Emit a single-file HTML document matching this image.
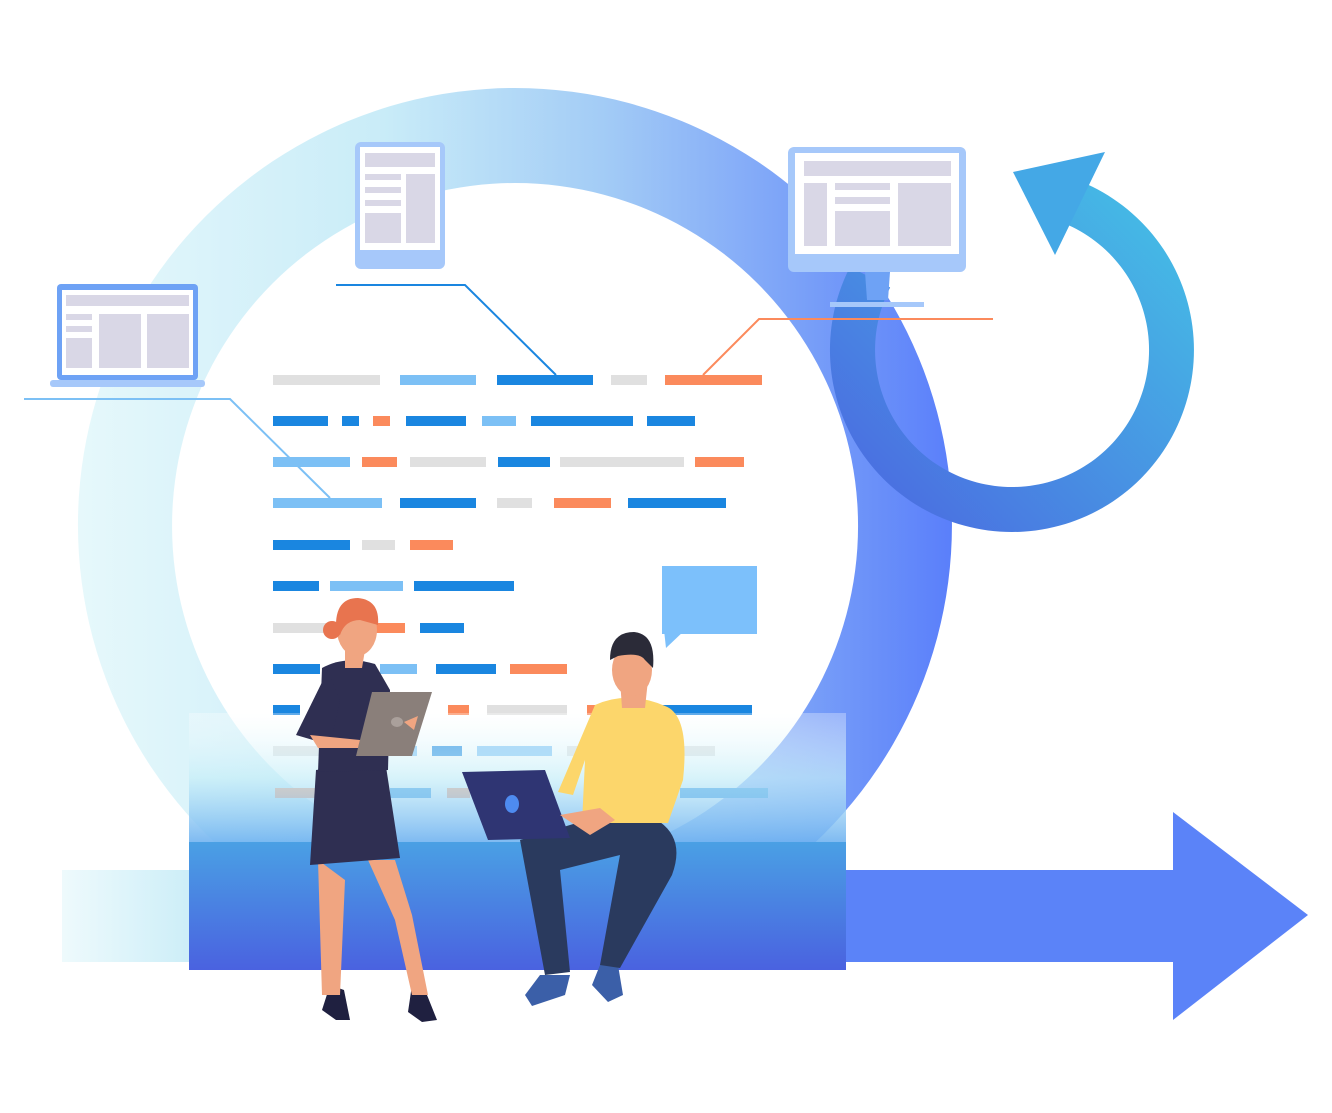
<!DOCTYPE html>
<html><head><meta charset="utf-8"><style>html,body{margin:0;padding:0;background:#fff}svg{display:block}</style></head>
<body>
<svg width="1332" height="1113" viewBox="0 0 1332 1113" xmlns="http://www.w3.org/2000/svg">
<defs>
<linearGradient id="ring" x1="0" y1="0" x2="1" y2="0">
<stop offset="0" stop-color="#e6f8fb"/><stop offset="0.35" stop-color="#c9ecf8"/><stop offset="0.6" stop-color="#a3ccf6"/><stop offset="1" stop-color="#5a7ffa"/></linearGradient>
<linearGradient id="loop" x1="1" y1="0" x2="0" y2="1">
<stop offset="0" stop-color="#44c6e6"/><stop offset="1" stop-color="#4b63e0"/></linearGradient>
<linearGradient id="plat" x1="0" y1="0" x2="0" y2="1">
<stop offset="0" stop-color="#4aa0e4"/><stop offset="1" stop-color="#4a62e0"/></linearGradient>
<linearGradient id="glass" x1="0" y1="0" x2="0" y2="1">
<stop offset="0" stop-color="#ffffff" stop-opacity="0.3"/><stop offset="0.5" stop-color="#c6eef8" stop-opacity="0.7"/><stop offset="1" stop-color="#6fb2f0" stop-opacity="0.9"/></linearGradient>
<linearGradient id="lrect" x1="0" y1="0" x2="1" y2="0">
<stop offset="0" stop-color="#eefafc"/><stop offset="1" stop-color="#cdeef8"/></linearGradient>
<clipPath id="cl"><polygon points="1012,350 700,190 700,1113 1332,1113 1332,0 1126,0"/></clipPath>
</defs>

<!-- big ring -->
<path fill-rule="evenodd" fill="url(#ring)" d="M515,88 a437,437 0 1,1 -0.1,0 Z M515,183 a343,343 0 1,0 0.1,0 Z"/>

<!-- loop arrow -->
<path fill-rule="evenodd" fill="url(#loop)" d="M1012,168 a182,182 0 1,1 -0.1,0 Z M1012,213 a137,137 0 1,0 0.1,0 Z" clip-path="url(#cl)"/>
<polygon points="1013,172 1105,152 1055,255" fill="#44a8e6"/>

<!-- left faint rect -->
<rect x="62" y="870" width="128" height="92" fill="url(#lrect)"/>
<!-- right arrow -->
<rect x="846" y="870" width="330" height="92" fill="#5b83f8"/>
<polygon points="1173,812 1308,915 1173,1020" fill="#5b83f8"/>

<!-- code lines -->
<g>
<g fill="#e0e0e0">
<rect x="273" y="375" width="107" height="10"/><rect x="611" y="375" width="36" height="10"/>
<rect x="410" y="457" width="76" height="10"/><rect x="560" y="457" width="124" height="10"/>
<rect x="497" y="498" width="35" height="10"/><rect x="362" y="540" width="33" height="10"/>
<rect x="273" y="623" width="57" height="10"/><rect x="487" y="705" width="80" height="10"/>
<rect x="273" y="746" width="57" height="10"/><rect x="567" y="746" width="33" height="10"/><rect x="680" y="746" width="35" height="10"/>
</g>
<g fill="#7cc0f5">
<rect x="400" y="375" width="76" height="10"/><rect x="482" y="416" width="34" height="10"/>
<rect x="273" y="457" width="77" height="10"/><rect x="273" y="498" width="109" height="10"/>
<rect x="330" y="581" width="73" height="10"/><rect x="380" y="664" width="37" height="10"/>
<rect x="390" y="746" width="27" height="10"/><rect x="477" y="746" width="75" height="10"/>
</g>
<g fill="#1a86e0">
<rect x="497" y="375" width="96" height="10"/>
<rect x="273" y="416" width="55" height="10"/><rect x="342" y="416" width="17" height="10"/><rect x="406" y="416" width="60" height="10"/><rect x="531" y="416" width="102" height="10"/><rect x="647" y="416" width="48" height="10"/>
<rect x="498" y="457" width="52" height="10"/>
<rect x="400" y="498" width="76" height="10"/><rect x="628" y="498" width="98" height="10"/>
<rect x="273" y="540" width="77" height="10"/>
<rect x="273" y="581" width="46" height="10"/><rect x="414" y="581" width="100" height="10"/>
<rect x="420" y="623" width="44" height="10"/>
<rect x="273" y="664" width="47" height="10"/><rect x="436" y="664" width="60" height="10"/>
<rect x="273" y="705" width="27" height="10"/><rect x="660" y="705" width="92" height="10"/>
<rect x="432" y="746" width="30" height="10"/>
<rect x="390" y="788" width="41" height="10"/><rect x="680" y="788" width="88" height="10"/>
</g>
<g fill="#fb8a5c">
<rect x="665" y="375" width="97" height="10"/><rect x="373" y="416" width="17" height="10"/>
<rect x="362" y="457" width="35" height="10"/><rect x="695" y="457" width="49" height="10"/>
<rect x="554" y="498" width="57" height="10"/><rect x="410" y="540" width="43" height="10"/>
<rect x="375" y="623" width="30" height="10"/><rect x="510" y="664" width="57" height="10"/>
<rect x="448" y="705" width="21" height="10"/><rect x="587" y="705" width="23" height="10"/>
<rect x="275" y="788" width="40" height="10"/><rect x="447" y="788" width="23" height="10"/>
</g>
</g>

<!-- speech bubble -->
<rect x="662" y="566" width="95" height="68" fill="#7cc0fb"/>
<polygon points="664,630 685,630 666,648" fill="#7cc0fb"/>

<!-- platform -->
<rect x="189" y="713" width="657" height="130" fill="url(#glass)"/>
<rect x="189" y="842" width="657" height="128" fill="url(#plat)"/>

<!-- connectors -->
<polyline points="24,399 230,399 330,498" fill="none" stroke="#7cc0f5" stroke-width="2"/>
<polyline points="336,285 465,285 556,375" fill="none" stroke="#1a86e0" stroke-width="2"/>
<polyline points="993,319 759,319 703,375" fill="none" stroke="#fb8a5c" stroke-width="2"/>

<!-- laptop -->
<rect x="57" y="284" width="141" height="96" rx="4" fill="#6ea2f5"/>
<rect x="62" y="290" width="131" height="85" fill="#fff"/>
<rect x="50" y="380" width="155" height="7" rx="3" fill="#a6c8fa"/>
<g fill="#d9d7e6"><rect x="66" y="295" width="123" height="11"/><rect x="66" y="314" width="26" height="6"/><rect x="66" y="326" width="26" height="6"/><rect x="66" y="338" width="26" height="30"/><rect x="99" y="314" width="42" height="54"/><rect x="147" y="314" width="42" height="54"/></g>

<!-- tablet -->
<rect x="355" y="142" width="90" height="127" rx="6" fill="#a6c8fa"/>
<rect x="360" y="147" width="80" height="103" fill="#fff"/>
<g fill="#d9d7e6"><rect x="365" y="153" width="70" height="14"/><rect x="365" y="174" width="36" height="6"/><rect x="365" y="187" width="36" height="6"/><rect x="365" y="200" width="36" height="6"/><rect x="365" y="213" width="36" height="30"/><rect x="406" y="174" width="29" height="69"/></g>

<!-- monitor -->
<path d="M865,272 L890,272 L888,300 L867,300 Z" fill="#6ea2f5"/>
<rect x="830" y="302" width="94" height="5" fill="#a6c8fa"/>
<rect x="788" y="147" width="178" height="125" rx="6" fill="#a6c8fa"/>
<rect x="795" y="153" width="164" height="101" fill="#fff"/>
<g fill="#d9d7e6"><rect x="804" y="161" width="147" height="15"/><rect x="804" y="183" width="23" height="63"/><rect x="835" y="183" width="55" height="7"/><rect x="835" y="197" width="55" height="7"/><rect x="835" y="211" width="55" height="35"/><rect x="898" y="183" width="53" height="63"/></g>

<!-- woman -->
<g>
<path d="M330,985 L322,1010 L336,1020 L350,1020 L344,990 Z" fill="#1f2040"/>
<path d="M412,985 L408,1012 L422,1022 L437,1020 L425,990 Z" fill="#1f2040"/>
<path d="M318,860 L322,995 L340,995 L345,880 Z" fill="#f0a581"/>
<path d="M368,860 L395,920 L412,995 L428,995 L412,915 L395,860 Z" fill="#f0a581"/>
<path d="M316,770 L310,865 L400,858 L385,760 Z" fill="#2f2f52"/>
<path d="M322,668 Q345,655 375,664 L390,690 L388,770 L318,772 Z" fill="#2f2f52"/>
<path d="M328,670 L296,735 L330,745 L340,700 Z" fill="#2f2f52"/>
<path d="M345,650 L365,650 L362,668 L345,668 Z" fill="#f0a581"/>
<ellipse cx="357" cy="630" rx="20" ry="26" fill="#f0a581"/>
<path d="M336,628 Q335,598 358,598 Q380,600 378,625 L360,620 Q345,620 340,635 Z" fill="#e8744f"/>
<circle cx="332" cy="630" r="9" fill="#e8744f"/>
<path d="M372,692 L432,692 L412,756 L356,756 Z" fill="#8a7f7a"/>
<ellipse cx="397" cy="722" rx="6" ry="5" fill="#aaa09b"/>
<path d="M310,735 L360,740 L358,748 L318,748 Z" fill="#f0a581"/>
<path d="M404,722 L418,716 L414,730 Z" fill="#f0a581"/>
</g>

<!-- man -->
<g>
<path d="M540,975 L525,995 L532,1006 L565,995 L570,975 Z" fill="#3b5fa8"/>
<path d="M600,965 L592,985 L608,1002 L623,995 L618,965 Z" fill="#3b5fa8"/>
<path d="M520,840 L545,975 L570,972 L560,870 L620,855 L600,965 L620,968 L672,875 Q685,840 660,822 L580,822 Z" fill="#2a3a5e"/>
<path d="M595,705 Q628,690 665,706 Q690,715 683,780 L668,823 L582,823 L585,760 L573,795 L558,792 Z" fill="#fcd66b"/>
<path d="M620,680 L648,680 L645,708 L622,708 Z" fill="#f0a581"/>
<ellipse cx="632" cy="670" rx="20" ry="26" fill="#f0a581"/>
<path d="M610,660 Q610,632 634,632 Q656,634 653,668 L645,660 Q640,652 618,656 Z" fill="#2b2b38"/>
<path d="M462,772 L545,770 L570,838 L488,840 Z" fill="#2f3573"/>
<ellipse cx="512" cy="804" rx="7" ry="9" fill="#4e8bf0"/>
<path d="M560,815 L600,808 L615,820 L590,835 Z" fill="#f0a581"/>
<path d="M645,790 L675,800 L668,806 Z" fill="#fcd66b"/>
</g>
</svg>
</body></html>
